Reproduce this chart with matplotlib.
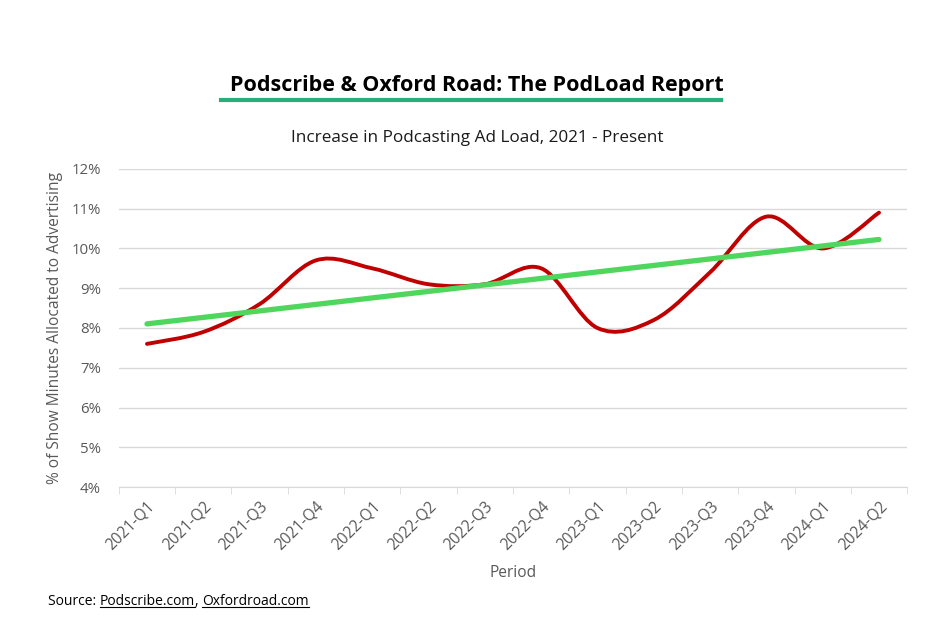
import numpy as np
import matplotlib
matplotlib.use("Agg")
import matplotlib.pyplot as plt
from matplotlib.path import Path
import matplotlib.patches as patches
from matplotlib.ticker import FuncFormatter, FixedLocator

# data
periods = ['2021-Q1', '2021-Q2', '2021-Q3', '2021-Q4',
           '2022-Q1', '2022-Q2', '2022-Q3', '2022-Q4',
           '2023-Q1', '2023-Q2', '2023-Q3', '2023-Q4',
           '2024-Q1', '2024-Q2']
ad_load = [7.6, 7.9, 8.6, 9.7, 9.5, 9.1, 9.1, 9.5, 8.0, 8.2, 9.4, 10.8, 10.0, 10.9]
y_ticks = [4, 5, 6, 7, 8, 9, 10, 11, 12]

title = "Podscribe & Oxford Road: The PodLoad Report"
subtitle = "Increase in Podcasting Ad Load, 2021 - Present"

plt.rcParams['font.family'] = ['Open Sans', 'DejaVu Sans']
gray = '#595959'


# smooth curve through points (catmull-rom as bezier segments)
def smooth_path(xs, ys):
    pts = np.column_stack([xs, ys]).astype(float)
    verts = [pts[0]]
    codes = [Path.MOVETO]
    n = len(pts)
    for i in range(n - 1):
        p0 = pts[i - 1] if i > 0 else pts[i]
        p1 = pts[i]
        p2 = pts[i + 1]
        p3 = pts[i + 2] if i + 2 < n else pts[i + 1]
        c1 = p1 + (p2 - p0) / 6.0
        c2 = p2 - (p3 - p1) / 6.0
        verts += [c1, c2, p2]
        codes += [Path.CURVE4] * 3
    return Path(verts, codes)


fig = plt.figure(figsize=(9.43, 6.35), dpi=100)
fig.patch.set_facecolor('white')
ax = fig.add_axes([0.126, 0.233, 0.836, 0.501])

x = np.arange(len(periods))
ax.add_patch(patches.PathPatch(smooth_path(x, ad_load), facecolor='none',
                               edgecolor='#C00000', lw=2.8, capstyle='round', zorder=3))

# linear trend
k, b = np.polyfit(x, ad_load, 1)
ax.plot(x, k * x + b, color='#4FD65C', lw=3.8, solid_capstyle='round', zorder=4)

ax.set_xlim(-0.5, len(periods) - 0.5)
ax.set_ylim(4, 12)
ax.set_yticks(y_ticks)
ax.yaxis.set_major_formatter(FuncFormatter(lambda v, p: f"{v:.0f}%"))
ax.grid(axis='y', color='#d9d9d9', lw=1)
ax.set_axisbelow(True)

ax.set_xticks(x)
ax.set_xticklabels(periods, rotation=45, ha='right', rotation_mode='anchor')
ax.xaxis.set_minor_locator(FixedLocator(np.arange(-0.5, len(periods), 1)))
ax.tick_params(axis='x', which='major', length=0, pad=8, labelsize=11.2, labelcolor=gray)
ax.tick_params(axis='x', which='minor', length=5, color='#d9d9d9')
ax.tick_params(axis='y', length=0, labelsize=10.8, labelcolor=gray, pad=13)

for s in ['top', 'right', 'left']:
    ax.spines[s].set_visible(False)
ax.spines['bottom'].set_color('#d9d9d9')

ax.set_xlabel("Period", fontsize=11.2, color=gray, labelpad=9)
ax.set_ylabel("% of Show Minutes Allocated to Advertising", fontsize=11.2, color=gray, labelpad=6)

fig.text(0.506, 0.866, title, ha='center', va='center', fontsize=15.5,
         fontweight='bold', color='black')
fig.add_artist(plt.Line2D([0.234, 0.765], [0.843, 0.843], color='#27AE7A', lw=3))
fig.text(0.506, 0.783, subtitle, ha='center', va='center', fontsize=12.3, color='#1a1a1a')

# source line with underlined links
renderer = fig.canvas.get_renderer()
xpos = 0.051
ypos = 0.048
for part, link in [("Source: ", False), ("Podscribe.com", True), (", ", False), ("Oxfordroad.com", True)]:
    t = fig.text(xpos, ypos, part, ha='left', va='baseline', fontsize=10, color='black')
    bb = t.get_window_extent(renderer).transformed(fig.transFigure.inverted())
    if link:
        fig.add_artist(plt.Line2D([bb.x0, bb.x1], [ypos - 0.004, ypos - 0.004], color='black', lw=0.8))
    xpos = bb.x1

fig.savefig("out.png", dpi=100)
